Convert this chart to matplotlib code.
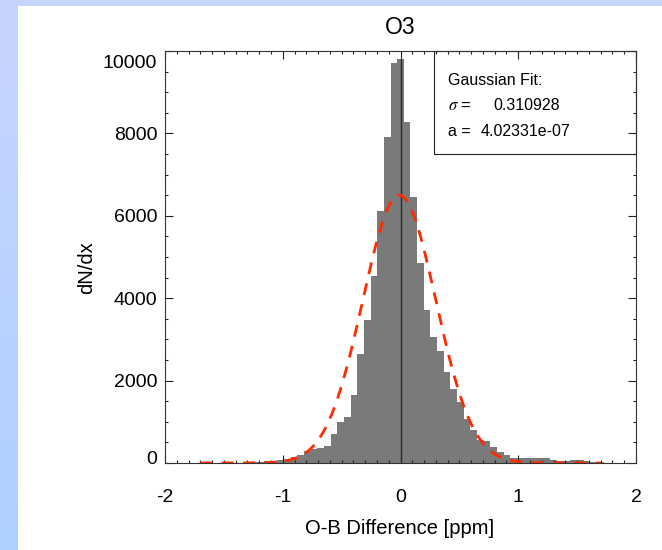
import numpy as np
import matplotlib
matplotlib.use('Agg')
import matplotlib.pyplot as plt
from matplotlib.transforms import ScaledTranslation
from matplotlib.ticker import MultipleLocator, FixedLocator
from matplotlib.patches import Rectangle

plt.rcParams['font.family'] = ['Liberation Sans', 'DejaVu Sans']
plt.rcParams['mathtext.fontset'] = 'stix'

# ---------------- data ----------------
title = 'O3'
x_label = 'O-B Difference [ppm]'
y_label = 'dN/dx'
bin_width = 0.0566          # ppm, histogram bin size
first_bin_index = -30       # bin centres are index * bin_width
counts = [3, 4, 5, 6, 8, 10, 12, 16,
          24, 32, 49, 57, 73, 90, 139, 195, 300, 340, 357, 420, 707, 1000,
          1114, 1640, 2650, 3480, 4529, 6105, 7920, 9707,
          9813,
          8268, 6455, 4854, 3720, 3057, 2730, 2220, 1805, 1476, 1073, 800,
          550, 525, 400, 270, 195, 125, 114, 110, 110, 115, 125,
          65, 60, 60, 75, 75, 50, 35, 20]
fit_sigma = 0.310928
fit_a = '4.02331e-07'
fit_amplitude = 6500
fit_center = -0.01
fit_range = [-1.7, 1.7]
x_ticks = [-2, -1, 0, 1, 2]
y_ticks = [0, 2000, 4000, 6000, 8000, 10000]

# ---------------- figure ----------------
W, H = 662, 550
fig = plt.figure(figsize=(W / 100, H / 100), dpi=100)
fig.patch.set_facecolor('white')

bg = fig.add_axes([0, 0, 1, 1], zorder=-10)
bg.set_xlim(0, W)
bg.set_ylim(H, 0)
bg.set_axis_off()
grad = np.linspace(0, 1, 256)[:, None, None]
top_c = np.array([200, 212, 255]) / 255
bot_c = np.array([174, 208, 255]) / 255
img = top_c * (1 - grad) + bot_c * grad
bg.imshow(img, extent=(0, 18, H, 0), aspect='auto', interpolation='bilinear')
bg.add_patch(Rectangle((0, 0), W, 6, color='#c5d5ff', lw=0))

ax = fig.add_axes([165 / W, (H - 463) / H, (636 - 165) / W, (463 - 51) / H])

edges = (first_bin_index - 0.5 + np.arange(len(counts) + 1)) * bin_width
ax.stairs(counts, edges, fill=True, color='#7a7a7a', lw=0)
ax.vlines(0, 0, max(counts), color='#2a2a2a', lw=1.0)

xf = np.linspace(fit_range[0], fit_range[1], 500)
yf = fit_amplitude * np.exp(-(xf - fit_center) ** 2 / (2 * fit_sigma ** 2))
ax.plot(xf, yf, color='#ff2a00', lw=2.0, ls=(0, (4.3, 3.4)))

ax.set_xlim(-2, 2)
ax.set_ylim(0, 10000)
ax.xaxis.set_major_locator(FixedLocator(x_ticks))
ax.yaxis.set_major_locator(FixedLocator(y_ticks))
ax.xaxis.set_minor_locator(MultipleLocator(0.1))
ax.yaxis.set_minor_locator(MultipleLocator(500))
ax.set_xticklabels([str(v) for v in x_ticks])
ax.set_yticklabels([str(v) for v in y_ticks])
ax.tick_params(which='both', direction='in', top=True, right=True,
               colors='#222222', width=0.8)
ax.tick_params(which='major', length=6)
ax.tick_params(which='minor', length=2.2)
ax.tick_params(axis='x', which='major', pad=19, labelsize=14, labelcolor='black')
ax.tick_params(axis='y', which='major', pad=5.5, labelsize=14, labelcolor='black')
for sp in ax.spines.values():
    sp.set_color('#333333')
    sp.set_linewidth(0.8)

yt = ax.yaxis.get_major_ticks()
yt[0].label1.set_transform(yt[0].label1.get_transform() + ScaledTranslation(0, 6 / 100, fig.dpi_scale_trans))
yt[-1].label1.set_transform(yt[-1].label1.get_transform() + ScaledTranslation(0, -11 / 100, fig.dpi_scale_trans))

# legend box
ax.add_patch(Rectangle((0.5718, 0.75), 1 - 0.5718, 0.25, transform=ax.transAxes,
                       fill=False, ec='#222222', lw=0.8, clip_on=False))
ax.text(0.600, 0.9175, 'Gaussian Fit:', transform=ax.transAxes, fontsize=11.5, va='baseline')
ax.text(0.600, 0.857, r'$\sigma$ =', transform=ax.transAxes, fontsize=12, va='baseline')
ax.text(0.697, 0.857, f'{fit_sigma:.6f}', transform=ax.transAxes, fontsize=11.5, va='baseline')
ax.text(0.600, 0.794, 'a =', transform=ax.transAxes, fontsize=11.5, va='baseline')
ax.text(0.670, 0.794, fit_a, transform=ax.transAxes, fontsize=11.5, va='baseline')

fig.text(400 / W, 1 - 28 / H, title, ha='center', va='center', fontsize=16.5)
fig.text(400 / W, 1 - 534 / H, x_label, ha='center', va='baseline', fontsize=14.5)
fig.text(87 / W, 1 - 268 / H, y_label, ha='center', va='center', rotation=90, fontsize=14.5)

fig.savefig('out.png', dpi=100, facecolor=fig.get_facecolor())
